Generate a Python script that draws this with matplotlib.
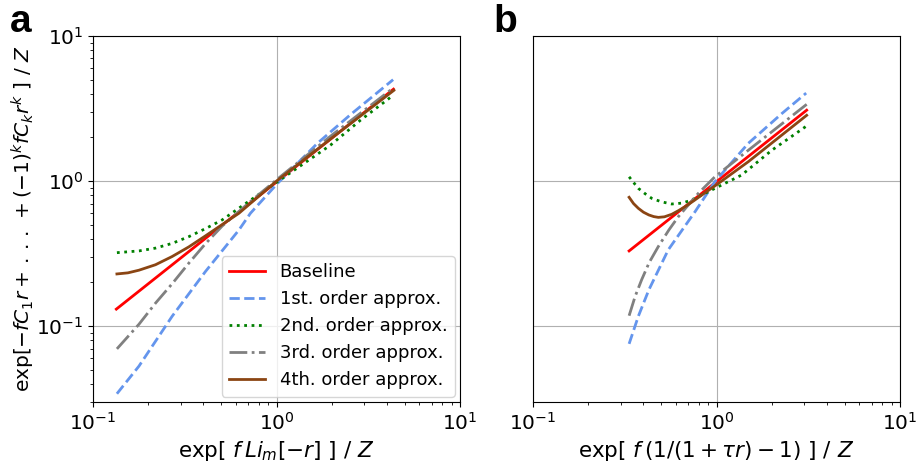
import matplotlib
matplotlib.use("Agg")
import matplotlib.pyplot as plt

# panel a: exp[f Li_m(-r)]/Z on x, series approximations on y
a_base_x = [0.134, 4.34]
a_base_y = [0.131, 4.30]

a_o1_x = [0.135, 0.178, 0.270, 0.410, 0.624, 0.721, 1.01, 1.67, 2.53, 4.32]
a_o1_y = [0.0342, 0.053, 0.117, 0.238, 0.46, 0.60, 0.96, 1.82, 2.87, 5.0]

a_o2_x = [0.135, 0.178, 0.219, 0.270, 0.333, 0.410, 0.506, 0.678, 1.0, 1.97, 2.87, 4.32]
a_o2_y = [0.321, 0.330, 0.345, 0.372, 0.414, 0.470, 0.54, 0.70, 0.98, 1.77, 2.63, 3.90]

a_o3_x = [0.135, 0.178, 0.219, 0.270, 0.333, 0.410, 0.506, 0.70, 1.0, 2.0, 4.36]
a_o3_y = [0.0697, 0.103, 0.144, 0.196, 0.272, 0.37, 0.490, 0.70, 1.02, 2.07, 4.41]

a_o4_x = [0.135, 0.155, 0.178, 0.219, 0.270, 0.333, 0.410, 0.510, 0.624, 1.0, 2.0, 4.36]
a_o4_y = [0.229, 0.233, 0.243, 0.265, 0.302, 0.352, 0.419, 0.505, 0.60, 1.0, 1.98, 4.22]

# panel b: exp[f(1/(1+tau r)-1)]/Z on x
b_base_x = [0.334, 3.10]
b_base_y = [0.330, 3.08]

b_o1_x = [0.334, 0.375, 0.428, 0.546, 0.764, 0.98, 1.49, 2.27, 3.08]
b_o1_y = [0.0755, 0.117, 0.178, 0.336, 0.615, 0.99, 1.82, 2.92, 4.04]

b_o2_x = [0.334, 0.355, 0.375, 0.410, 0.444, 0.50, 0.57, 0.65, 0.733, 0.94, 1.37, 2.0, 3.10]
b_o2_y = [1.07, 0.97, 0.891, 0.815, 0.76, 0.72, 0.695, 0.705, 0.74, 0.867, 1.10, 1.63, 2.40]

b_o3_x = [0.334, 0.36, 0.391, 0.43, 0.482, 0.55, 0.62, 0.796, 0.98, 1.49, 3.10]
b_o3_y = [0.118, 0.160, 0.209, 0.275, 0.354, 0.46, 0.569, 0.823, 1.07, 1.63, 3.38]

b_o4_x = [0.334, 0.353, 0.375, 0.400, 0.428, 0.455, 0.482, 0.52, 0.57, 0.62, 0.674, 0.75, 0.83, 1.02, 1.49, 3.10]
b_o4_y = [0.773, 0.700, 0.649, 0.610, 0.584, 0.569, 0.562, 0.567, 0.59, 0.625, 0.666, 0.73, 0.80, 0.96, 1.36, 2.84]

labels = ["Baseline", "1st. order approx.", "2nd. order approx.",
          "3rd. order approx.", "4th. order approx."]
styles = [("red", "-"), ("cornflowerblue", "--"), ("green", ":"),
          ("gray", "-."), ("saddlebrown", "-")]

fig = plt.figure(figsize=(9.18, 4.63), dpi=100)
ax_a = fig.add_axes([93 / 918, 61 / 463, 367 / 918, 366 / 463])
ax_b = fig.add_axes([533 / 918, 61 / 463, 367 / 918, 366 / 463])

panels = [
    (ax_a, [(a_base_x, a_base_y), (a_o1_x, a_o1_y), (a_o2_x, a_o2_y),
            (a_o3_x, a_o3_y), (a_o4_x, a_o4_y)]),
    (ax_b, [(b_base_x, b_base_y), (b_o1_x, b_o1_y), (b_o2_x, b_o2_y),
            (b_o3_x, b_o3_y), (b_o4_x, b_o4_y)]),
]

for ax, series in panels:
    for (xs, ys), (col, ls), lab in zip(series, styles, labels):
        ax.plot(xs, ys, color=col, linestyle=ls, linewidth=2, label=lab)
    ax.set_xscale("log")
    ax.set_yscale("log")
    ax.set_xlim(0.1, 10)
    ax.set_ylim(0.03, 10)
    ax.grid(True, which="major", color="#b0b0b0", linewidth=0.8)
    ax.tick_params(labelsize=14.5)

ax_a.set_ylabel(r"$\exp[-fC_1r+\,.\,.\,.\,+(-1)^kfC_kr^k\ ]\ /\ Z$", fontsize=14.5)
ax_a.yaxis.set_label_coords(-0.152, 0.5)
ax_a.set_xlabel(r"$\exp[\ f\,Li_m[-r]\ ]\ /\ Z$", fontsize=15.5)
ax_b.set_xlabel(r"$\exp[\ f\,(1/(1+\tau r)-1)\ ]\ /\ Z$", fontsize=15.5)
ax_b.tick_params(axis="y", which="both", left=False, labelleft=False)

ax_a.legend(loc="lower right", fontsize=13, borderaxespad=0.3)

fig.text(10 / 918, 1 - 4 / 463, "a", fontsize=28, fontweight="bold",
         family="Liberation Sans", va="top", ha="left")
fig.text(493 / 918, 1 - 4 / 463, "b", fontsize=28, fontweight="bold",
         family="Liberation Sans", va="top", ha="left")

fig.savefig("out.png", dpi=100)
